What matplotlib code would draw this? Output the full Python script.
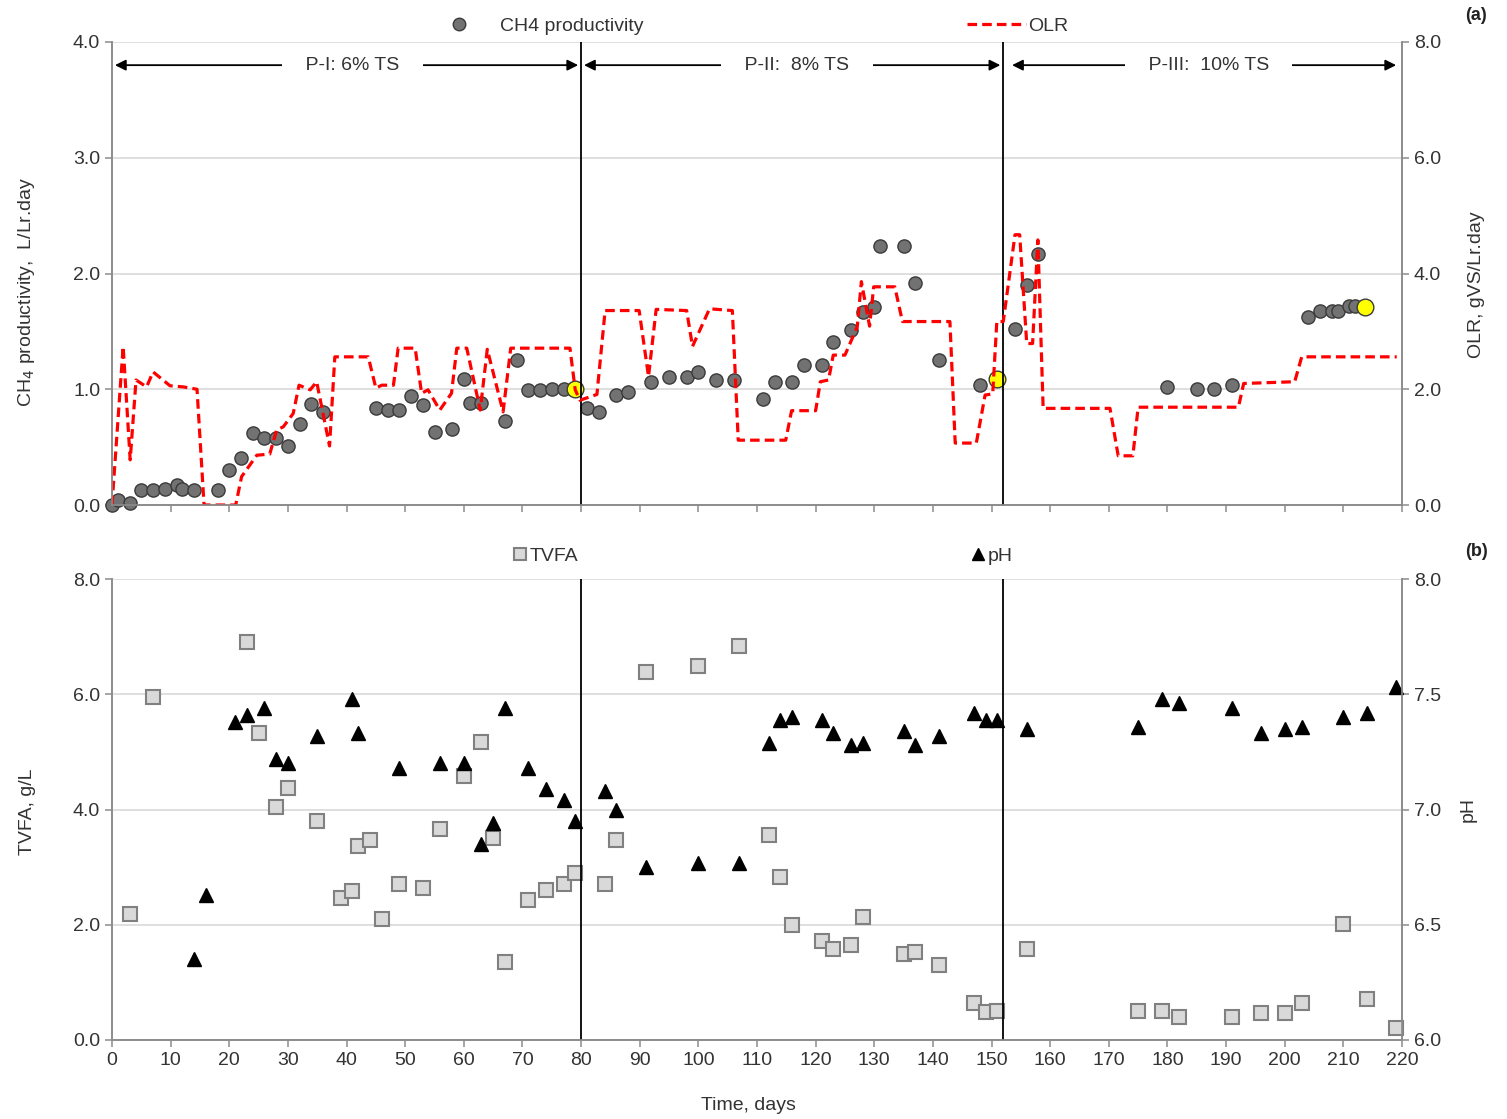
import matplotlib
matplotlib.use("Agg")
import matplotlib.pyplot as plt
from matplotlib.lines import Line2D

plt.rcParams['font.family'] = ['Liberation Sans Narrow', 'Liberation Sans', 'DejaVu Sans']

# ---- data ----
ch4_days = [0, 1, 3, 5, 7, 9, 11, 12, 14, 18,
            20, 22, 24, 26, 28, 30, 32, 34, 36,
            45, 47, 49, 51, 53, 55, 58, 60, 61, 63,
            67, 69, 71, 73, 75, 77,
            81, 83, 86, 88, 92, 95, 98, 100, 103, 106,
            111, 113, 116, 118, 121, 123, 126, 128, 130, 131,
            135, 137, 141, 148,
            154, 156, 158,
            180, 185, 188, 191,
            204, 206, 208, 209, 211, 212]
ch4_vals = [0.0, 0.04, 0.02, 0.13, 0.13, 0.14, 0.17, 0.14, 0.13, 0.13,
            0.30, 0.41, 0.62, 0.58, 0.58, 0.51, 0.70, 0.87, 0.80,
            0.84, 0.82, 0.82, 0.94, 0.86, 0.63, 0.66, 1.09, 0.88, 0.88,
            0.73, 1.25, 0.99, 0.99, 1.00, 1.00,
            0.84, 0.80, 0.95, 0.98, 1.06, 1.11, 1.11, 1.15, 1.08, 1.08,
            0.92, 1.06, 1.06, 1.21, 1.21, 1.41, 1.51, 1.67, 1.71, 2.24,
            2.24, 1.92, 1.25, 1.04,
            1.52, 1.90, 2.17,
            1.02, 1.00, 1.00, 1.04,
            1.62, 1.68, 1.68, 1.68, 1.72, 1.72]

# end-of-phase points (yellow)
end_days = [79, 151, 213.7]
end_vals = [1.00, 1.09, 1.71]

olr_days = [0, 1.9, 3.1, 4.1, 5.9, 7.0, 9.9, 12.2, 14.5, 15.7,
            21.1, 22.1, 24.7, 26.9, 28.1, 29.2, 30.9, 31.9, 33.8, 34.9,
            37.1, 38.0, 43.7, 45.0, 46.0, 48.0, 48.8, 51.7, 52.8, 53.9,
            55.9, 57.9, 58.8, 60.5, 62.8, 64.0, 66.7, 68.0, 78.1, 79.0,
            79.8, 82.7, 84.1, 89.9, 91.5, 92.8, 98.0, 99.0, 101.9, 105.8,
            106.8, 114.9, 115.9, 120.0, 120.8, 122.2, 123.0, 125.0, 127.1, 127.8,
            129.2, 129.9, 133.5, 134.8, 142.9, 143.8, 147.4, 148.9, 150.2, 150.9,
            152.0, 154.0, 154.8, 156.0, 157.0, 157.9, 158.8, 170.2, 171.6, 174.1,
            175.0, 192.1, 193.0, 201.7, 202.9, 219.1]
olr_vals = [0, 2.74, 0.78, 2.16, 2.04, 2.30, 2.06, 2.04, 2.00, 0,
            0, 0.49, 0.86, 0.88, 1.30, 1.35, 1.58, 2.07, 1.99, 2.13,
            1.02, 2.56, 2.56, 2.02, 2.07, 2.07, 2.71, 2.71, 1.93, 1.99,
            1.64, 1.93, 2.71, 2.71, 1.64, 2.69, 1.61, 2.71, 2.71, 1.99,
            1.81, 1.91, 3.36, 3.36, 2.22, 3.38, 3.36, 2.74, 3.39, 3.36,
            1.12, 1.12, 1.63, 1.63, 2.13, 2.16, 2.59, 2.59, 3.08, 3.86,
            3.09, 3.77, 3.77, 3.17, 3.17, 1.07, 1.07, 1.90, 1.92, 3.17,
            3.17, 4.67, 4.67, 2.79, 2.79, 4.58, 1.67, 1.67, 0.85, 0.85,
            1.69, 1.69, 2.10, 2.13, 2.56, 2.56]

tvfa_days = [3, 7, 23, 25, 28, 30, 35, 39, 41, 42, 44, 46, 49, 53, 56, 60, 63, 65, 67,
             71, 74, 77, 79, 84, 86, 91, 100, 107, 112, 114, 116, 121, 123, 126, 128,
             135, 137, 141, 147, 149, 151, 156, 175, 179, 182, 191, 196, 200, 203,
             210, 214, 219]
tvfa_vals = [2.19, 5.95, 6.90, 5.33, 4.05, 4.38, 3.80, 2.47, 2.59, 3.37, 3.47, 2.10,
             2.71, 2.63, 3.67, 4.58, 5.17, 3.50, 1.36,
             2.43, 2.60, 2.71, 2.90, 2.71, 3.47, 6.39, 6.49, 6.83, 3.56, 2.82, 2.00,
             1.72, 1.58, 1.64, 2.13,
             1.50, 1.52, 1.30, 0.65, 0.48, 0.51, 1.58, 0.51, 0.51, 0.40, 0.40, 0.46,
             0.46, 0.65, 2.02, 0.71, 0.21]

ph_days = [14, 16, 21, 23, 26, 28, 30, 35, 41, 42, 49, 56, 60, 63, 65, 67, 71, 74, 77, 79,
           84, 86, 91, 100, 107, 112, 114, 116, 121, 123, 126, 128, 135, 137, 141,
           147, 149, 151, 156, 175, 179, 182, 191, 196, 200, 203, 210, 214, 219]
ph_vals = [6.35, 6.63, 7.38, 7.41, 7.44, 7.22, 7.20, 7.32, 7.48, 7.33, 7.18, 7.20, 7.20,
           6.85, 6.94, 7.44, 7.18, 7.09, 7.04, 6.95,
           7.08, 7.00, 6.75, 6.77, 6.77, 7.29, 7.39, 7.40, 7.39, 7.33, 7.28, 7.29, 7.34,
           7.28, 7.32,
           7.42, 7.39, 7.39, 7.35, 7.36, 7.48, 7.46, 7.44, 7.33, 7.35, 7.36, 7.40, 7.42,
           7.53]

phase_bounds = [80, 152]
phase_labels = ["P-I: 6% TS", "P-II:  8% TS", "P-III:  10% TS"]
phase_arrows = [(0.5, 79.5), (80.5, 151.5), (153.5, 219)]
phase_text_x = [41, 116.8, 187]

# ---- styling ----
GRAY = "#8c8c8c"
TXT = "#333333"
FS = 14

fig = plt.figure(figsize=(15.07, 11.19), dpi=100)
ax_a = fig.add_axes([112 / 1507, 1 - 505 / 1119, 1290 / 1507, 463 / 1119])
ax_b = fig.add_axes([112 / 1507, 1 - 1040 / 1119, 1290 / 1507, 461 / 1119])
ax_a2 = ax_a.twinx()
ax_b2 = ax_b.twinx()


def style(ax):
    ax.spines['top'].set_visible(False)
    for s in ('left', 'right', 'bottom'):
        ax.spines[s].set_color(GRAY)
        ax.spines[s].set_linewidth(1.2)
    ax.tick_params(axis='both', direction='out', length=5, width=1.1,
                   color=GRAY, labelcolor=TXT, labelsize=FS)
    ax.set_xlim(0, 220)
    ax.set_xticks(range(0, 221, 10))


for ax in (ax_a, ax_b, ax_a2, ax_b2):
    style(ax)

# ---- panel (a) ----
ax_a.set_ylim(0, 4)
ax_a.set_yticks([0, 1, 2, 3, 4])
ax_a.yaxis.set_major_formatter(lambda v, p: "%.1f" % v)
ax_a.grid(axis='y', color='#d9d9d9', lw=1.2)
ax_a.set_axisbelow(True)
ax_a.tick_params(axis='x', labelbottom=False)

ax_a.plot(ch4_days, ch4_vals, 'o', ms=9.5, mfc='#727272', mec='#3a3a3a',
          mew=1.0, ls='none', clip_on=False, zorder=3)
ax_a.plot(end_days, end_vals, 'o', ms=12, mfc='#ffff00', mec='#3a3a3a',
          mew=1.0, ls='none', clip_on=False, zorder=4)

ax_a2.set_ylim(0, 8)
ax_a2.set_yticks([0, 2, 4, 6, 8])
ax_a2.yaxis.set_major_formatter(lambda v, p: "%.1f" % v)
ax_a2.plot(olr_days, olr_vals, color='red', lw=2.3, ls=(0, (3, 1.6)))

for b in phase_bounds:
    ax_a.axvline(b, color='black', lw=1.3, zorder=5)

for (x0, x1), lab, tx in zip(phase_arrows, phase_labels, phase_text_x):
    ax_a.annotate('', xy=(x1, 3.8), xytext=(x0, 3.8),
                  arrowprops=dict(arrowstyle='<|-|>', color='black', lw=1.3,
                                  mutation_scale=16, shrinkA=0, shrinkB=0))
    ax_a.text(tx, 3.8, "    " + lab + "    ", ha='center', va='center',
              fontsize=FS, color=TXT,
              bbox=dict(boxstyle='square,pad=0.1', fc='white', ec='none'))

ax_a.set_ylabel("CH$_4$ productivity,  L/Lr.day", fontsize=FS, color=TXT)
ax_a.yaxis.set_label_coords(-0.058, 0.46)
ax_a2.set_ylabel("OLR, gVS/Lr.day", fontsize=FS, color=TXT)
ax_a2.yaxis.set_label_coords(1.051, 0.475)

h_ch4 = Line2D([], [], marker='o', ls='none', ms=9, mfc='#727272', mec='#3a3a3a')
h_olr = Line2D([], [], color='red', lw=2.3, ls=(0, (3, 1.6)))
ax_a.legend([h_ch4], ["CH4 productivity"], loc='center', bbox_to_anchor=(0.333, 1.035),
            frameon=False, fontsize=FS, handletextpad=1.1, labelcolor=TXT,
            borderaxespad=0, borderpad=0)
ax_a2.legend([h_olr], ["OLR"], loc='center', bbox_to_anchor=(0.702, 1.035),
             frameon=False, fontsize=FS, handlelength=3.0, handletextpad=0.1,
             labelcolor=TXT, borderaxespad=0, borderpad=0)

# ---- panel (b) ----
ax_b.set_ylim(0, 8)
ax_b.set_yticks([0, 2, 4, 6, 8])
ax_b.yaxis.set_major_formatter(lambda v, p: "%.1f" % v)
ax_b.grid(axis='y', color='#d9d9d9', lw=1.2)
ax_b.set_axisbelow(True)

ax_b.plot(tvfa_days, tvfa_vals, 's', ms=9.5, mfc='#d9d9d9', mec='#808080',
          mew=1.5, ls='none', clip_on=False, zorder=3)
ax_b2.set_ylim(6, 8)
ax_b2.set_yticks([6.0, 6.5, 7.0, 7.5, 8.0])
ax_b2.yaxis.set_major_formatter(lambda v, p: "%.1f" % v)
ax_b2.plot(ph_days, ph_vals, '^', ms=10, color='black', ls='none', clip_on=False)

for b in phase_bounds:
    ax_b.axvline(b, color='black', lw=1.3, zorder=5)

ax_b.set_ylabel("TVFA, g/L", fontsize=FS, color=TXT)
ax_b.yaxis.set_label_coords(-0.059, 0.495)
ax_b2.set_ylabel("pH", fontsize=FS, color=TXT)
ax_b2.yaxis.set_label_coords(1.045, 0.5)
ax_b.set_xlabel("Time, days", fontsize=FS, color=TXT)
ax_b.xaxis.set_label_coords(0.493, -0.123)

h_tvfa = Line2D([], [], marker='s', ls='none', ms=9, mfc='#d9d9d9', mec='#808080', mew=1.5)
h_ph = Line2D([], [], marker='^', ls='none', ms=9, color='black')
ax_b.legend([h_tvfa], ["TVFA"], loc='center', bbox_to_anchor=(0.336, 1.05),
            frameon=False, fontsize=FS, handlelength=0.8, handletextpad=0.1,
            labelcolor=TXT, borderaxespad=0, borderpad=0)
ax_b2.legend([h_ph], ["pH"], loc='center', bbox_to_anchor=(0.682, 1.05),
             frameon=False, fontsize=FS, handlelength=0.8, handletextpad=0.1,
             labelcolor=TXT, borderaxespad=0, borderpad=0)

fig.text(1476 / 1507, 1 - 16 / 1119, "(a)", ha='center', va='center',
         fontsize=13, fontweight='bold', color='#222222')
fig.text(1476 / 1507, 1 - 551 / 1119, "(b)", ha='center', va='center',
         fontsize=13, fontweight='bold', color='#222222')

fig.savefig("out.png", dpi=100)
